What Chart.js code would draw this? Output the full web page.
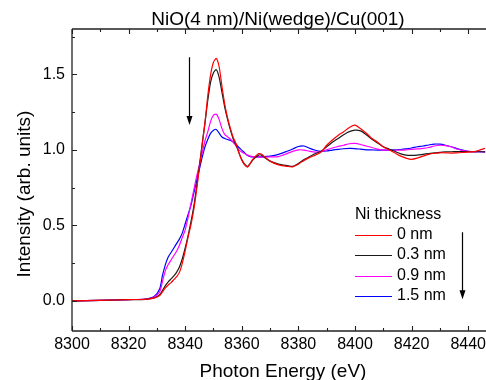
<!DOCTYPE html>
<html><head><meta charset="utf-8">
<script src="https://cdn.jsdelivr.net/npm/chart.js@4/dist/chart.umd.min.js"></script>
<style>html,body{margin:0;padding:0;background:#fff;overflow:hidden}</style>
</head><body>
<canvas id="c" width="486" height="380"></canvas>
<script>
const energies = [8300,8310,8320,8326,8329,8331,8332,8333,8334,8335,8336,8337,8338,8339,8340,8341,8342,8343,8344,8345,8346,8347,8348,8349,8350,8351,8352,8353,8354,8355,8356,8357,8358,8359,8360,8361,8362,8363,8364,8366,8367,8368,8370,8373,8376,8378,8380,8382,8384,8386,8388,8390,8392,8394,8396,8398,8400,8402,8404,8406,8408,8410,8412,8414,8416,8418,8420,8422,8424,8426,8428,8430,8432,8434,8436,8438,8440,8442,8444,8446];
const ni0nm  = [0.0,0.003,0.008,0.01,0.018,0.035,0.06,0.085,0.105,0.12,0.14,0.16,0.19,0.25,0.33,0.42,0.50,0.60,0.73,0.88,1.03,1.18,1.36,1.50,1.58,1.605,1.55,1.42,1.30,1.21,1.14,1.08,1.04,0.98,0.93,0.90,0.885,0.91,0.94,0.975,0.97,0.955,0.925,0.90,0.89,0.887,0.905,0.93,0.95,0.965,0.985,1.03,1.065,1.095,1.12,1.148,1.163,1.14,1.11,1.075,1.05,1.02,1.0,0.98,0.96,0.945,0.937,0.945,0.958,0.97,0.977,0.98,0.98,0.978,0.98,0.982,0.985,0.988,0.998,1.01];
const ni03nm = [0.0,0.003,0.008,0.01,0.02,0.04,0.07,0.10,0.125,0.145,0.165,0.19,0.225,0.28,0.35,0.43,0.52,0.62,0.75,0.89,1.04,1.18,1.33,1.45,1.51,1.531,1.48,1.38,1.28,1.20,1.13,1.07,1.03,0.98,0.935,0.905,0.89,0.91,0.935,0.965,0.965,0.95,0.925,0.905,0.895,0.89,0.91,0.935,0.955,0.975,0.99,1.02,1.05,1.075,1.10,1.12,1.13,1.125,1.10,1.07,1.045,1.02,1.005,0.99,0.975,0.965,0.963,0.965,0.97,0.975,0.98,0.983,0.987,0.987,0.988,0.988,0.987,0.987,0.987,0.987];
const ni09nm = [0.0,0.003,0.008,0.012,0.025,0.06,0.13,0.20,0.24,0.27,0.30,0.33,0.37,0.42,0.47,0.55,0.64,0.73,0.82,0.90,0.98,1.06,1.12,1.19,1.23,1.235,1.20,1.14,1.10,1.085,1.07,1.05,1.025,1.0,0.985,0.975,0.965,0.958,0.955,0.952,0.952,0.952,0.953,0.955,0.975,0.99,1.0,0.998,0.99,0.985,0.988,1.0,1.012,1.022,1.03,1.04,1.042,1.035,1.025,1.015,1.005,0.998,0.997,0.997,0.998,1.0,1.003,1.006,1.009,1.015,1.025,1.03,1.028,1.02,1.005,0.995,0.99,0.987,0.987,0.986];
const ni15nm = [0.0,0.003,0.008,0.012,0.028,0.08,0.17,0.24,0.29,0.32,0.35,0.38,0.41,0.45,0.51,0.57,0.63,0.71,0.79,0.87,0.95,1.02,1.07,1.11,1.13,1.135,1.11,1.085,1.075,1.068,1.062,1.052,1.035,1.015,0.998,0.98,0.962,0.955,0.953,0.953,0.953,0.955,0.958,0.97,0.99,1.005,1.022,1.025,1.01,0.997,0.99,0.992,0.998,1.003,1.007,1.009,1.008,1.004,1.0,0.999,0.998,0.998,0.998,0.999,1.002,1.006,1.012,1.02,1.025,1.032,1.038,1.037,1.03,1.02,1.008,0.998,0.99,0.987,0.987,0.985];
const seriesLabels = ['0 nm','0.3 nm','0.9 nm','1.5 nm'];
const seriesValues = [ni0nm, ni03nm, ni09nm, ni15nm];
const seriesColors = ['#ff0000','#1a1a1a','#ff00ff','#0000ff'];
const xTicks = [8300,8320,8340,8360,8380,8400,8420,8440];
const xMinorTicks = [8310,8330,8350,8370,8390,8410,8430];
const yTicks = [0.0,0.5,1.0,1.5];
const yMinorTicks = [-0.25,0.25,0.75,1.25,1.75];
const arrows = [{x:8341.4, from:1.613, to:1.164},{x:8437.7, from:0.454, to:0.01}];
const titleText = 'NiO(4 nm)/Ni(wedge)/Cu(001)';
const xTitle = 'Photon Energy (eV)';
const yTitle = 'Intensity (arb. units)';
const legendTitle = 'Ni thickness';

const FONT = "'Liberation Sans', Arial, sans-serif";

const decor = {
  id: 'decor',
  afterDatasetsDraw(chart) {
    const ctx = chart.ctx, a = chart.chartArea;
    const xs = chart.scales.x, ys = chart.scales.y;
    ctx.save();
    ctx.strokeStyle = '#222'; ctx.lineWidth = 1.3;
    ctx.beginPath();
    ctx.moveTo(a.left, a.top); ctx.lineTo(a.left, a.bottom);
    ctx.moveTo(a.left, a.top); ctx.lineTo(a.right, a.top);
    ctx.moveTo(a.left, a.bottom); ctx.lineTo(a.right, a.bottom);
    ctx.stroke();
    ctx.lineWidth = 1.1;
    ctx.beginPath();
    const xt = (v, len) => { const p = Math.round(xs.getPixelForValue(v)) + 0.5;
      ctx.moveTo(p, a.bottom); ctx.lineTo(p, a.bottom - len);
      ctx.moveTo(p, a.top); ctx.lineTo(p, a.top + len); };
    const yt = (v, len) => { const p = Math.round(ys.getPixelForValue(v)) + 0.5;
      if (p < a.top || p > a.bottom) return;
      ctx.moveTo(a.left, p); ctx.lineTo(a.left + len, p); };
    xTicks.forEach(v => xt(v, 5)); xMinorTicks.forEach(v => xt(v, 3));
    yTicks.forEach(v => yt(v, 5)); yMinorTicks.forEach(v => yt(v, 3));
    ctx.stroke();

    ctx.strokeStyle = '#000'; ctx.fillStyle = '#000'; ctx.lineWidth = 1.2;
    arrows.forEach(ar => {
      const px = Math.round(xs.getPixelForValue(ar.x)) + 0.5;
      const y0 = ys.getPixelForValue(ar.from), y1 = ys.getPixelForValue(ar.to);
      ctx.beginPath(); ctx.moveTo(px, y0); ctx.lineTo(px, y1 - 6); ctx.stroke();
      ctx.beginPath(); ctx.moveTo(px - 3, y1 - 9); ctx.lineTo(px + 3, y1 - 9); ctx.lineTo(px, y1); ctx.closePath(); ctx.fill();
    });

    ctx.fillStyle = '#000';
    ctx.font = '19px ' + FONT;
    ctx.textAlign = 'center'; ctx.textBaseline = 'alphabetic';
    ctx.fillText(titleText, 278, 25);
    ctx.fillText(xTitle, 283, 377);
    ctx.save();
    ctx.translate(30, 194); ctx.rotate(-Math.PI / 2);
    ctx.fillText(yTitle, 0, 0);
    ctx.restore();

    ctx.font = '16px ' + FONT;
    ctx.textAlign = 'left'; ctx.textBaseline = 'middle';
    ctx.fillText(legendTitle, 355, 215);
    const rows = [234.5, 255, 275.5, 296];
    seriesLabels.forEach((lab, i) => {
      ctx.strokeStyle = seriesColors[i]; ctx.lineWidth = 1.2;
      ctx.beginPath(); ctx.moveTo(355, Math.round(rows[i]) + 0.5); ctx.lineTo(392, Math.round(rows[i]) + 0.5); ctx.stroke();
      ctx.fillStyle = '#000';
      ctx.fillText(lab, 397, rows[i]);
    });
    ctx.restore();
  }
};

new Chart(document.getElementById('c'), {
  type: 'line',
  data: {
    datasets: seriesValues.map((vals, i) => ({
      label: seriesLabels[i],
      data: energies.map((e, j) => ({x: e, y: vals[j]})),
      borderColor: seriesColors[i],
      borderWidth: 1.2,
      pointRadius: 0,
      fill: false,
      tension: 0.25
    }))
  },
  options: {
    responsive: false,
    animation: false,
    devicePixelRatio: 1,
    layout: {padding: {top: 29, left: 0, right: 0, bottom: 0}},
    plugins: {legend: {display: false}, title: {display: false}, tooltip: {enabled: false}},
    scales: {
      x: {
        type: 'linear', min: 8300, max: 8446.3, position: 'bottom',
        grid: {display: false, drawTicks: false, tickLength: 0}, border: {display: false},
        ticks: {color: '#000', font: {size: 16, family: FONT}, padding: 4, autoSkip: false, maxRotation: 0,
          callback: v => String(v)},
        afterBuildTicks: s => { s.ticks = xTicks.map(v => ({value: v})); },
        afterFit: s => { s.height = 49; s.paddingLeft = 0; s.paddingRight = 0; }
      },
      y: {
        type: 'linear', min: -0.2, max: 1.8, position: 'left',
        grid: {display: false, drawTicks: false, tickLength: 0}, border: {display: false},
        ticks: {color: '#000', font: {size: 16, family: FONT}, padding: 7, autoSkip: false,
          callback: v => Number(v).toFixed(1)},
        afterBuildTicks: s => { s.ticks = yTicks.map(v => ({value: v})); },
        afterFit: s => { s.width = 72; s.paddingTop = 0; s.paddingBottom = 0; }
      }
    }
  },
  plugins: [decor]
});
</script>
</body></html>
